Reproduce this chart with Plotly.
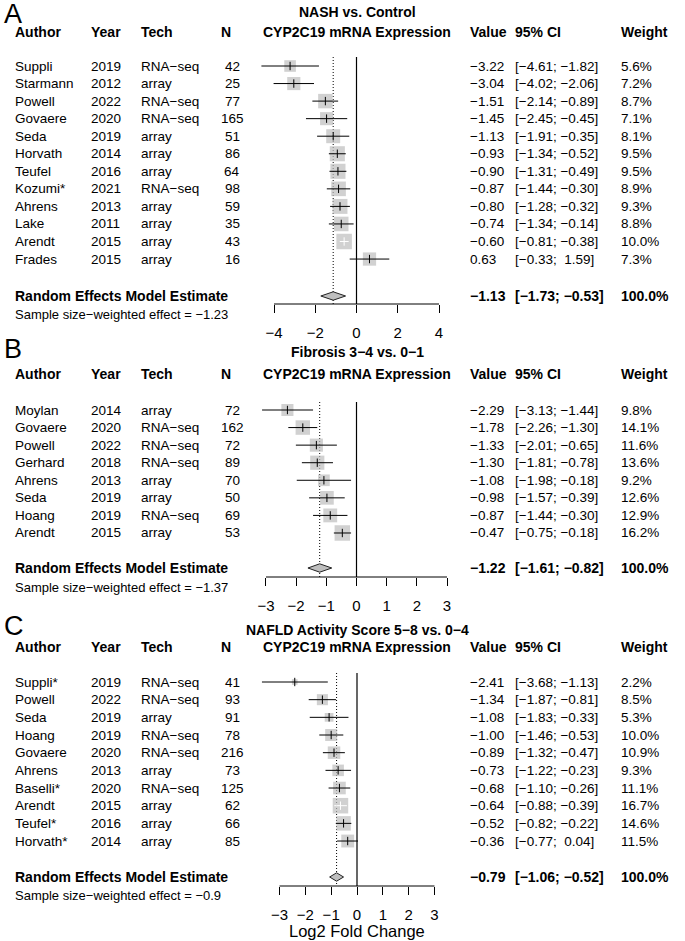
import math
import plotly.graph_objects as go

W, H = 685, 941
FONT = "Liberation Sans, Arial, Helvetica, sans-serif"
MINUS = "\u2212"

# ---------------- Data ----------------
# Panel A: NASH vs. Control
a_author = ["Suppli", "Starmann", "Powell", "Govaere", "Seda", "Horvath", "Teufel",
            "Kozumi*", "Ahrens", "Lake", "Arendt", "Frades"]
a_year = [2019, 2012, 2022, 2020, 2019, 2014, 2016, 2021, 2013, 2011, 2015, 2015]
a_tech = ["RNA−seq", "array", "RNA−seq", "RNA−seq", "array", "array", "array",
          "RNA−seq", "array", "array", "array", "array"]
a_n = [42, 25, 77, 165, 51, 86, 64, 98, 59, 35, 43, 16]
a_value = [-3.22, -3.04, -1.51, -1.45, -1.13, -0.93, -0.90, -0.87, -0.80, -0.74, -0.60, 0.63]
a_lower = [-4.61, -4.02, -2.14, -2.45, -1.91, -1.34, -1.31, -1.44, -1.28, -1.34, -0.81, -0.33]
a_upper = [-1.82, -2.06, -0.89, -0.45, -0.35, -0.52, -0.49, -0.30, -0.32, -0.14, -0.38, 1.59]
a_weight = [5.6, 7.2, 8.7, 7.1, 8.1, 9.5, 9.5, 8.9, 9.3, 8.8, 10.0, 7.3]
a_re = [-1.13, -1.73, -0.53]
a_ss = -1.23
a_ticks = [-4, -2, 0, 2, 4]

# Panel B: Fibrosis 3-4 vs. 0-1
b_author = ["Moylan", "Govaere", "Powell", "Gerhard", "Ahrens", "Seda", "Hoang", "Arendt"]
b_year = [2014, 2020, 2022, 2018, 2013, 2019, 2019, 2015]
b_tech = ["array", "RNA−seq", "RNA−seq", "RNA−seq", "array", "array", "RNA−seq", "array"]
b_n = [72, 162, 72, 89, 70, 50, 69, 53]
b_value = [-2.29, -1.78, -1.33, -1.30, -1.08, -0.98, -0.87, -0.47]
b_lower = [-3.13, -2.26, -2.01, -1.81, -1.98, -1.57, -1.44, -0.75]
b_upper = [-1.44, -1.30, -0.65, -0.78, -0.18, -0.39, -0.30, -0.18]
b_weight = [9.8, 14.1, 11.6, 13.6, 9.2, 12.6, 12.9, 16.2]
b_re = [-1.22, -1.61, -0.82]
b_ss = -1.37
b_ticks = [-3, -2, -1, 0, 1, 2, 3]

# Panel C: NAFLD Activity Score 5-8 vs. 0-4
c_author = ["Suppli*", "Powell", "Seda", "Hoang", "Govaere", "Ahrens", "Baselli*",
            "Arendt", "Teufel*", "Horvath*"]
c_year = [2019, 2022, 2019, 2019, 2020, 2013, 2020, 2015, 2016, 2014]
c_tech = ["RNA−seq", "RNA−seq", "array", "RNA−seq", "RNA−seq", "array", "RNA−seq",
          "array", "array", "array"]
c_n = [41, 93, 91, 78, 216, 73, 125, 62, 66, 85]
c_value = [-2.41, -1.34, -1.08, -1.00, -0.89, -0.73, -0.68, -0.64, -0.52, -0.36]
c_lower = [-3.68, -1.87, -1.83, -1.46, -1.32, -1.22, -1.10, -0.88, -0.82, -0.77]
c_upper = [-1.13, -0.81, -0.33, -0.53, -0.47, -0.23, -0.26, -0.39, -0.22, 0.04]
c_weight = [2.2, 8.5, 5.3, 10.0, 10.9, 9.3, 11.1, 16.7, 14.6, 11.5]
c_re = [-0.79, -1.06, -0.52]
c_ss = -0.9
c_ticks = [-3, -2, -1, 0, 1, 2, 3]

titles = ["NASH vs. Control", "Fibrosis 3−4 vs. 0−1", "NAFLD Activity Score 5−8 vs. 0−4"]
letters = ["A", "B", "C"]
headers = ["Author", "Year", "Tech", "N", "CYP2C19 mRNA Expression", "Value", "95% CI", "Weight"]
x_title = "Log2 Fold Change"

# ---------------- Layout geometry (pixels) ----------------
panels = [
    dict(letter_y=14, title_y=12, header_y=32, row0=66, step=17.55, re_y=296, ss_y=314,
         axis_y=304, vtop=57, zero=356.5, scale=20.625),
    dict(letter_y=349, title_y=352, header_y=374, row0=410, step=17.57, re_y=568, ss_y=587,
         axis_y=577, vtop=402, zero=356.5, scale=30.17),
    dict(letter_y=626, title_y=630, header_y=647, row0=682, step=17.67, re_y=877, ss_y=895,
         axis_y=886, vtop=673, zero=357, scale=25.83),
]
data = [
    (a_author, a_year, a_tech, a_n, a_value, a_lower, a_upper, a_weight, a_re, a_ss, a_ticks),
    (b_author, b_year, b_tech, b_n, b_value, b_lower, b_upper, b_weight, b_re, b_ss, b_ticks),
    (c_author, c_year, c_tech, c_n, c_value, c_lower, c_upper, c_weight, c_re, c_ss, c_ticks),
]

X_AUTHOR, X_YEAR, X_TECH, X_N, X_NC = 13, 89, 139, 219, 232
X_VAL, X_CI, X_W, X_MID = 468, 513, 619, 357
FS = 13.5      # row text
FSB = 14       # bold text
GREY = "#BEBEBE"
BOX_MAX = 15.5


def fmt(v, pad=False):
    s = f"{v:.2f}".replace("-", MINUS)
    if pad and v >= 0:
        s = "\u00a0" + s
    return s


def ci_text(lo, hi):
    return f"[{fmt(lo, True)}; {fmt(hi, True)}]"


fig = go.Figure()
annotations = []


def ann(text, xpx, ypx, size=FS, bold=False, anchor="left"):
    annotations.append(dict(
        text=text, x=xpx / W, xref="paper", y=ypx, yref="y",
        xanchor=anchor, yanchor="middle", showarrow=False,
        font=dict(family=FONT, size=size, color="black", weight="bold" if bold else "normal"),
    ))


axis_layout = {}
for k, (p, d) in enumerate(zip(panels, data)):
    author, year, tech, n, value, lower, upper, weight, re, ss, ticks = d
    xa = "x" if k == 0 else f"x{k + 1}"
    xa_key = "xaxis" if k == 0 else f"xaxis{k + 1}"
    ys = [p["row0"] + i * p["step"] for i in range(len(author))]
    wmax = max(weight)
    sizes = [BOX_MAX * math.sqrt(w / wmax) for w in weight]
    inside = [(hi - lo) * p["scale"] < s for lo, hi, s in zip(lower, upper, sizes)]

    # axis
    axis_layout[xa_key] = dict(
        domain=[0, 1], range=[-p["zero"] / p["scale"], (W - p["zero"]) / p["scale"]],
        anchor="free", position=1 - p["axis_y"] / H,
        showgrid=False, zeroline=False, showline=False,
        ticks="outside", ticklen=8, tickwidth=1, tickcolor="black",
        tickvals=ticks, ticktext=[str(t).replace("-", MINUS) for t in ticks],
        tickfont=dict(family=FONT, size=15, color="black"),
        ticklabelstandoff=7, fixedrange=True,
    )
    if k > 0:
        axis_layout[xa_key]["overlaying"] = "x"

    # axis line
    fig.add_trace(go.Scatter(x=[ticks[0], ticks[-1]], y=[p["axis_y"], p["axis_y"]], xaxis=xa, yaxis="y",
                             mode="lines", line=dict(color="black", width=1), hoverinfo="skip"))
    # zero line
    fig.add_trace(go.Scatter(x=[0, 0], y=[p["vtop"], p["axis_y"]], xaxis=xa, yaxis="y",
                             mode="lines", line=dict(color="black", width=1.2), hoverinfo="skip"))
    # dotted RE line
    fig.add_trace(go.Scatter(x=[re[0], re[0]], y=[p["vtop"], p["axis_y"]], xaxis=xa, yaxis="y",
                             mode="lines", line=dict(color="black", width=1, dash="1px,2px"),
                             hoverinfo="skip"))
    # squares
    fig.add_trace(go.Scatter(x=value, y=ys, xaxis=xa, yaxis="y", mode="markers",
                             marker=dict(symbol="square", size=sizes, color=GREY, line=dict(width=0)),
                             hoverinfo="skip"))
    # CI lines (black / white when inside box)
    for col, flag in (("black", False), ("white", True)):
        xs, yl, px, py = [], [], [], []
        for lo, hi, v, y, ins in zip(lower, upper, value, ys, inside):
            if ins == flag:
                xs += [lo, hi, None]
                yl += [y, y, None]
                px.append(v)
                py.append(y)
        if px:
            fig.add_trace(go.Scatter(x=xs, y=yl, xaxis=xa, yaxis="y", mode="lines",
                                     line=dict(color=col, width=1), hoverinfo="skip"))
            fig.add_trace(go.Scatter(x=px, y=py, xaxis=xa, yaxis="y", mode="markers",
                                     marker=dict(symbol="line-ns", size=6,
                                                 line=dict(color=col, width=1)),
                                     hoverinfo="skip"))
    # diamond
    hd = 4.2
    fig.add_trace(go.Scatter(x=[re[1], re[0], re[2], re[0], re[1]],
                             y=[p["re_y"], p["re_y"] - hd, p["re_y"], p["re_y"] + hd, p["re_y"]],
                             xaxis=xa, yaxis="y", mode="lines", fill="toself", fillcolor=GREY,
                             line=dict(color="#222222", width=1), hoverinfo="skip"))

    # texts
    ann(letters[k], 2, p["letter_y"], size=27)
    ann(titles[k], X_MID, p["title_y"], size=FSB, bold=True, anchor="center")
    hy = p["header_y"]
    ann(headers[0], X_AUTHOR, hy, FSB, True)
    ann(headers[1], X_YEAR, hy, FSB, True)
    ann(headers[2], X_TECH, hy, FSB, True)
    ann(headers[3], X_N, hy, FSB, True)
    ann(headers[4], X_MID, hy, FSB, True, "center")
    ann(headers[5], X_VAL, hy, FSB, True)
    ann(headers[6], X_CI, hy, FSB, True)
    ann(headers[7], X_W, hy, FSB, True)
    for i, y in enumerate(ys):
        ann(author[i], X_AUTHOR, y)
        ann(str(year[i]), X_YEAR, y)
        ann(tech[i], X_TECH, y)
        ann(str(n[i]), X_NC, y, anchor="center")
        ann(fmt(value[i]), X_VAL, y)
        ann(ci_text(lower[i], upper[i]), X_CI, y)
        ann(f"{weight[i]:.1f}%", X_W, y)
    ann("Random Effects Model Estimate", X_AUTHOR, p["re_y"], FSB, True)
    ann(fmt(re[0]), X_VAL, p["re_y"], FSB, True)
    ann(ci_text(re[1], re[2]), X_CI, p["re_y"], FSB, True)
    ann("100.0%", X_W, p["re_y"], FSB, True)
    ann("Sample size−weighted effect = " + str(ss).replace("-", MINUS), X_AUTHOR, p["ss_y"], 13)

ann(x_title, X_MID, 931, size=16.5, anchor="center")

fig.update_layout(
    width=W, height=H, margin=dict(l=0, r=0, t=0, b=0),
    paper_bgcolor="white", plot_bgcolor="rgba(0,0,0,0)",
    showlegend=False,
    yaxis=dict(domain=[0, 1], range=[H, 0], visible=False, fixedrange=True),
    annotations=annotations,
    font=dict(family=FONT, color="black"),
    **axis_layout,
)

fig.write_html("out.html", config={"displayModeBar": False, "staticPlot": True},
               post_script="document.body.style.margin='0';")
